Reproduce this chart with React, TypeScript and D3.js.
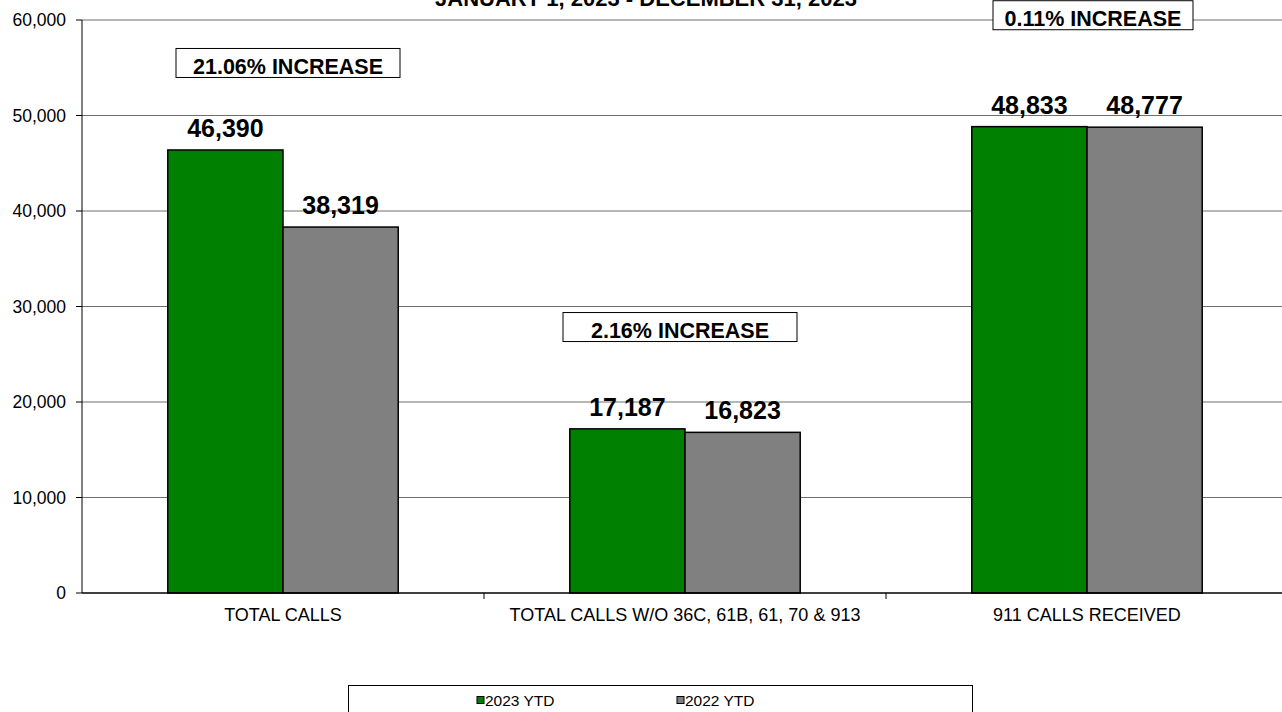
import React from "react";
import * as d3 from "d3";

const categories = ["TOTAL CALLS", "TOTAL CALLS W/O 36C, 61B, 61, 70 & 913", "911 CALLS RECEIVED"];
const seriesNames = ["2023 YTD", "2022 YTD"];
const values2023 = [46390, 17187, 48833];
const values2022 = [38319, 16823, 48777];
const seriesColors = ["#008000", "#808080"];
const yTicks = [0, 10000, 20000, 30000, 40000, 50000, 60000];
const annotations = ["21.06% INCREASE", "2.16% INCREASE", "0.11% INCREASE"];
const annotationY = [55500, 27850, 60500];
const annotationDx = [5, -5, 6];
const annotationW = [224, 234, 200];
const title = "JANUARY 1, 2023 - DECEMBER 31, 2023";

const W = 1282;
const H = 712;
const left = 82;
const right = 1288;
const top = 20;
const bottom = 593;

export default function App() {
  const x0 = d3.scaleBand<string>().domain(categories).range([left, right]).padding(0);
  const bw = x0.bandwidth();
  const barW = bw * 0.2866;
  const y = d3.scaleLinear().domain([0, 60000]).range([bottom, top]);
  const fmt = d3.format(",");
  const series = [values2023, values2022];

  return (
    <svg width={W} height={H} style={{ position: "absolute", left: 0, top: 0, background: "#fff" }}
      fontFamily="Arial, 'Liberation Sans', sans-serif">
      {/* gridlines */}
      {yTicks.filter((t) => t > 0).map((t) => (
        <line key={t} x1={left} x2={W} y1={y(t)} y2={y(t)} stroke="#6e6e6e" strokeWidth={1} />
      ))}
      {/* y axis */}
      <line x1={left} x2={left} y1={top} y2={bottom} stroke="#000" strokeWidth={1} />
      {yTicks.map((t) => (
        <g key={t}>
          <line x1={left - 6} x2={left} y1={y(t)} y2={y(t)} stroke="#000" />
          <text x={left - 16} y={y(t)} dy="0.36em" textAnchor="end" fontSize={17.5} fill="#000">
            {fmt(t)}
          </text>
        </g>
      ))}
      {/* bars */}
      {categories.map((c, i) => {
        const cx = (x0(c) as number) + bw / 2;
        return (
          <g key={c}>
            {series.map((s, j) => {
              const bx = cx - barW + j * barW;
              return (
                <rect key={j} x={bx} y={y(s[i])} width={barW} height={bottom - y(s[i])}
                  fill={seriesColors[j]} stroke="#000" strokeWidth={1.5} />
              );
            })}
            {series.map((s, j) => {
              const bx = cx - barW + j * barW + barW / 2;
              return (
                <text key={"l" + j} x={bx} y={y(s[i]) - 13} textAnchor="middle" fontSize={25}
                  fontWeight="bold" fill="#000">
                  {fmt(s[i])}
                </text>
              );
            })}
          </g>
        );
      })}
      {/* x axis */}
      <line x1={left} x2={W} y1={bottom} y2={bottom} stroke="#000" strokeWidth={1.5} />
      {categories.map((c, i) => (
        <g key={"t" + c}>
          {i > 0 && (
            <line x1={x0(c) as number} x2={x0(c) as number} y1={bottom} y2={bottom + 6} stroke="#000" />
          )}
          <text x={(x0(c) as number) + bw / 2} y={bottom + 28} textAnchor="middle" fontSize={18} fill="#000">
            {c}
          </text>
        </g>
      ))}
      {/* annotations */}
      {categories.map((c, i) => {
        const cx = (x0(c) as number) + bw / 2 + annotationDx[i];
        const cy = y(annotationY[i]);
        const w = annotationW[i];
        return (
          <g key={"a" + c}>
            <rect x={cx - w / 2} y={cy - 14.5} width={w} height={29} fill="#fff" stroke="#000" strokeWidth={1} />
            <text x={cx} y={cy + 3} dy="0.36em" textAnchor="middle" fontSize={21.5} fontWeight="bold" fill="#000">
              {annotations[i]}
            </text>
          </g>
        );
      })}
      {/* title */}
      <text x={646} y={6} textAnchor="middle" fontSize={22} fontWeight="bold" fill="#000">
        {title}
      </text>
      {/* legend */}
      <rect x={348.5} y={685.5} width={624} height={40} fill="#fff" stroke="#000" strokeWidth={1} />
      {seriesNames.map((n, j) => (
        <g key={n} transform={`translate(${477 + j * 200},700)`}>
          <rect x={0} y={-3.5} width={7} height={7} fill={seriesColors[j]} stroke="#000" strokeWidth={1} />
          <text x={8} y={0} dy="0.36em" fontSize={15.5} fill="#000">
            {n}
          </text>
        </g>
      ))}
    </svg>
  );
}
